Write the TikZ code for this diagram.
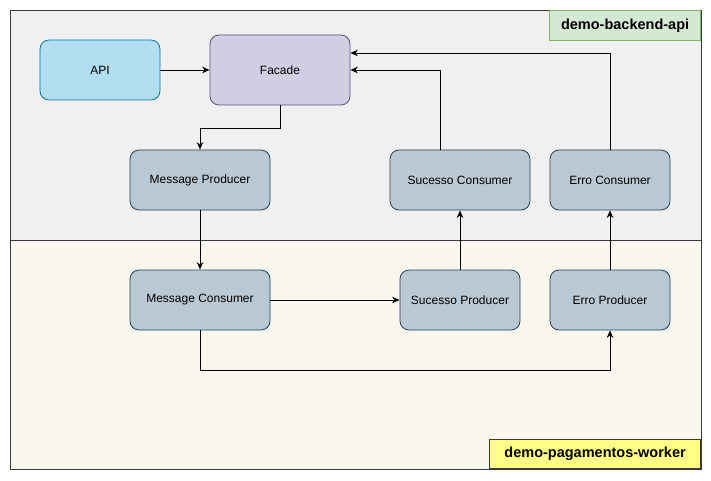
\documentclass[tikz,border=0pt]{standalone}
\usepackage{fontspec}
\setmainfont{Liberation Sans}
\usetikzlibrary{arrows.meta}
\definecolor{zoneA}{HTML}{F0F0F0}
\definecolor{zoneB}{HTML}{F9F7ED}
\definecolor{zoneline}{HTML}{36393D}
\definecolor{apifill}{HTML}{B1DDF0}
\definecolor{apiline}{HTML}{10739E}
\definecolor{facfill}{HTML}{D0CEE2}
\definecolor{facline}{HTML}{56517E}
\definecolor{svcfill}{HTML}{BAC8D3}
\definecolor{svcline}{HTML}{23445D}
\definecolor{grfill}{HTML}{D5E8D4}
\definecolor{grline}{HTML}{82B366}
\definecolor{yefill}{HTML}{FFFF88}
\tikzset{
  box/.style={draw, line width=0.8pt, rounded corners=9pt, minimum height=60pt, font=\fontsize{12}{14}\selectfont, text=black, inner sep=0pt},
  svc/.style={box, fill=svcfill, draw=svcline},
  conn/.style={draw=black, line width=0.9pt, -{Stealth[length=7.5pt,width=6.5pt,inset=2.5pt]}},
  tag/.style={draw, line width=0.8pt, font=\fontsize{14.5}{17}\selectfont\bfseries, text=black, inner sep=0pt, anchor=north east}
}
\begin{document}
\begin{tikzpicture}[x=1pt,y=-1pt]
\useasboundingbox (0,0) rectangle (711,481);
% zones
\path[fill=zoneA, draw=zoneline, line width=0.8pt] (10,10) rectangle (701,240);
\path[fill=zoneB, draw=zoneline, line width=0.8pt] (10,240) rectangle (701,469);
\node[tag, fill=grfill, draw=grline, minimum width=151pt, minimum height=30pt] (tagA) at (701,10) {demo-backend-api};
\node[tag, fill=yefill, draw=zoneline, minimum width=211pt, minimum height=29pt, anchor=south east] (tagB) at (701,469) {demo-pagamentos-worker};
% nodes
\node[box, fill=apifill, draw=apiline, minimum width=120pt] (api) at (100,70) {API};
\node[box, fill=facfill, draw=facline, minimum width=140pt, minimum height=70pt] (facade) at (280,70) {Facade};
\node[svc, minimum width=140pt] (mp) at (200,180) {Message Producer};
\node[svc, minimum width=140pt] (sc) at (460,180) {Sucesso Consumer};
\node[svc, minimum width=120pt] (ec) at (610,180) {Erro Consumer};
\node[svc, minimum width=140pt] (mc) at (200,300) {Message Consumer};
\node[svc, minimum width=120pt] (sp) at (460,300) {Sucesso Producer};
\node[svc, minimum width=120pt] (ep) at (610,300) {Erro Producer};
% connectors
\draw[conn] (api) -- (facade);
\draw[conn] (facade.south) -- ++(0,23) -| (mp.north);
\draw[conn] ([xshift=-20pt]sc.north) |- (facade.east);
\draw[conn] (ec.north) |- ([yshift=17pt]facade.east);
\draw[conn] (mp) -- (mc);
\draw[conn] (mc) -- (sp);
\draw[conn] (sp) -- (sc);
\draw[conn] (ep) -- (ec);
\draw[conn] (mc.south) -- ++(0,40) -| (ep.south);
\end{tikzpicture}
\end{document}
